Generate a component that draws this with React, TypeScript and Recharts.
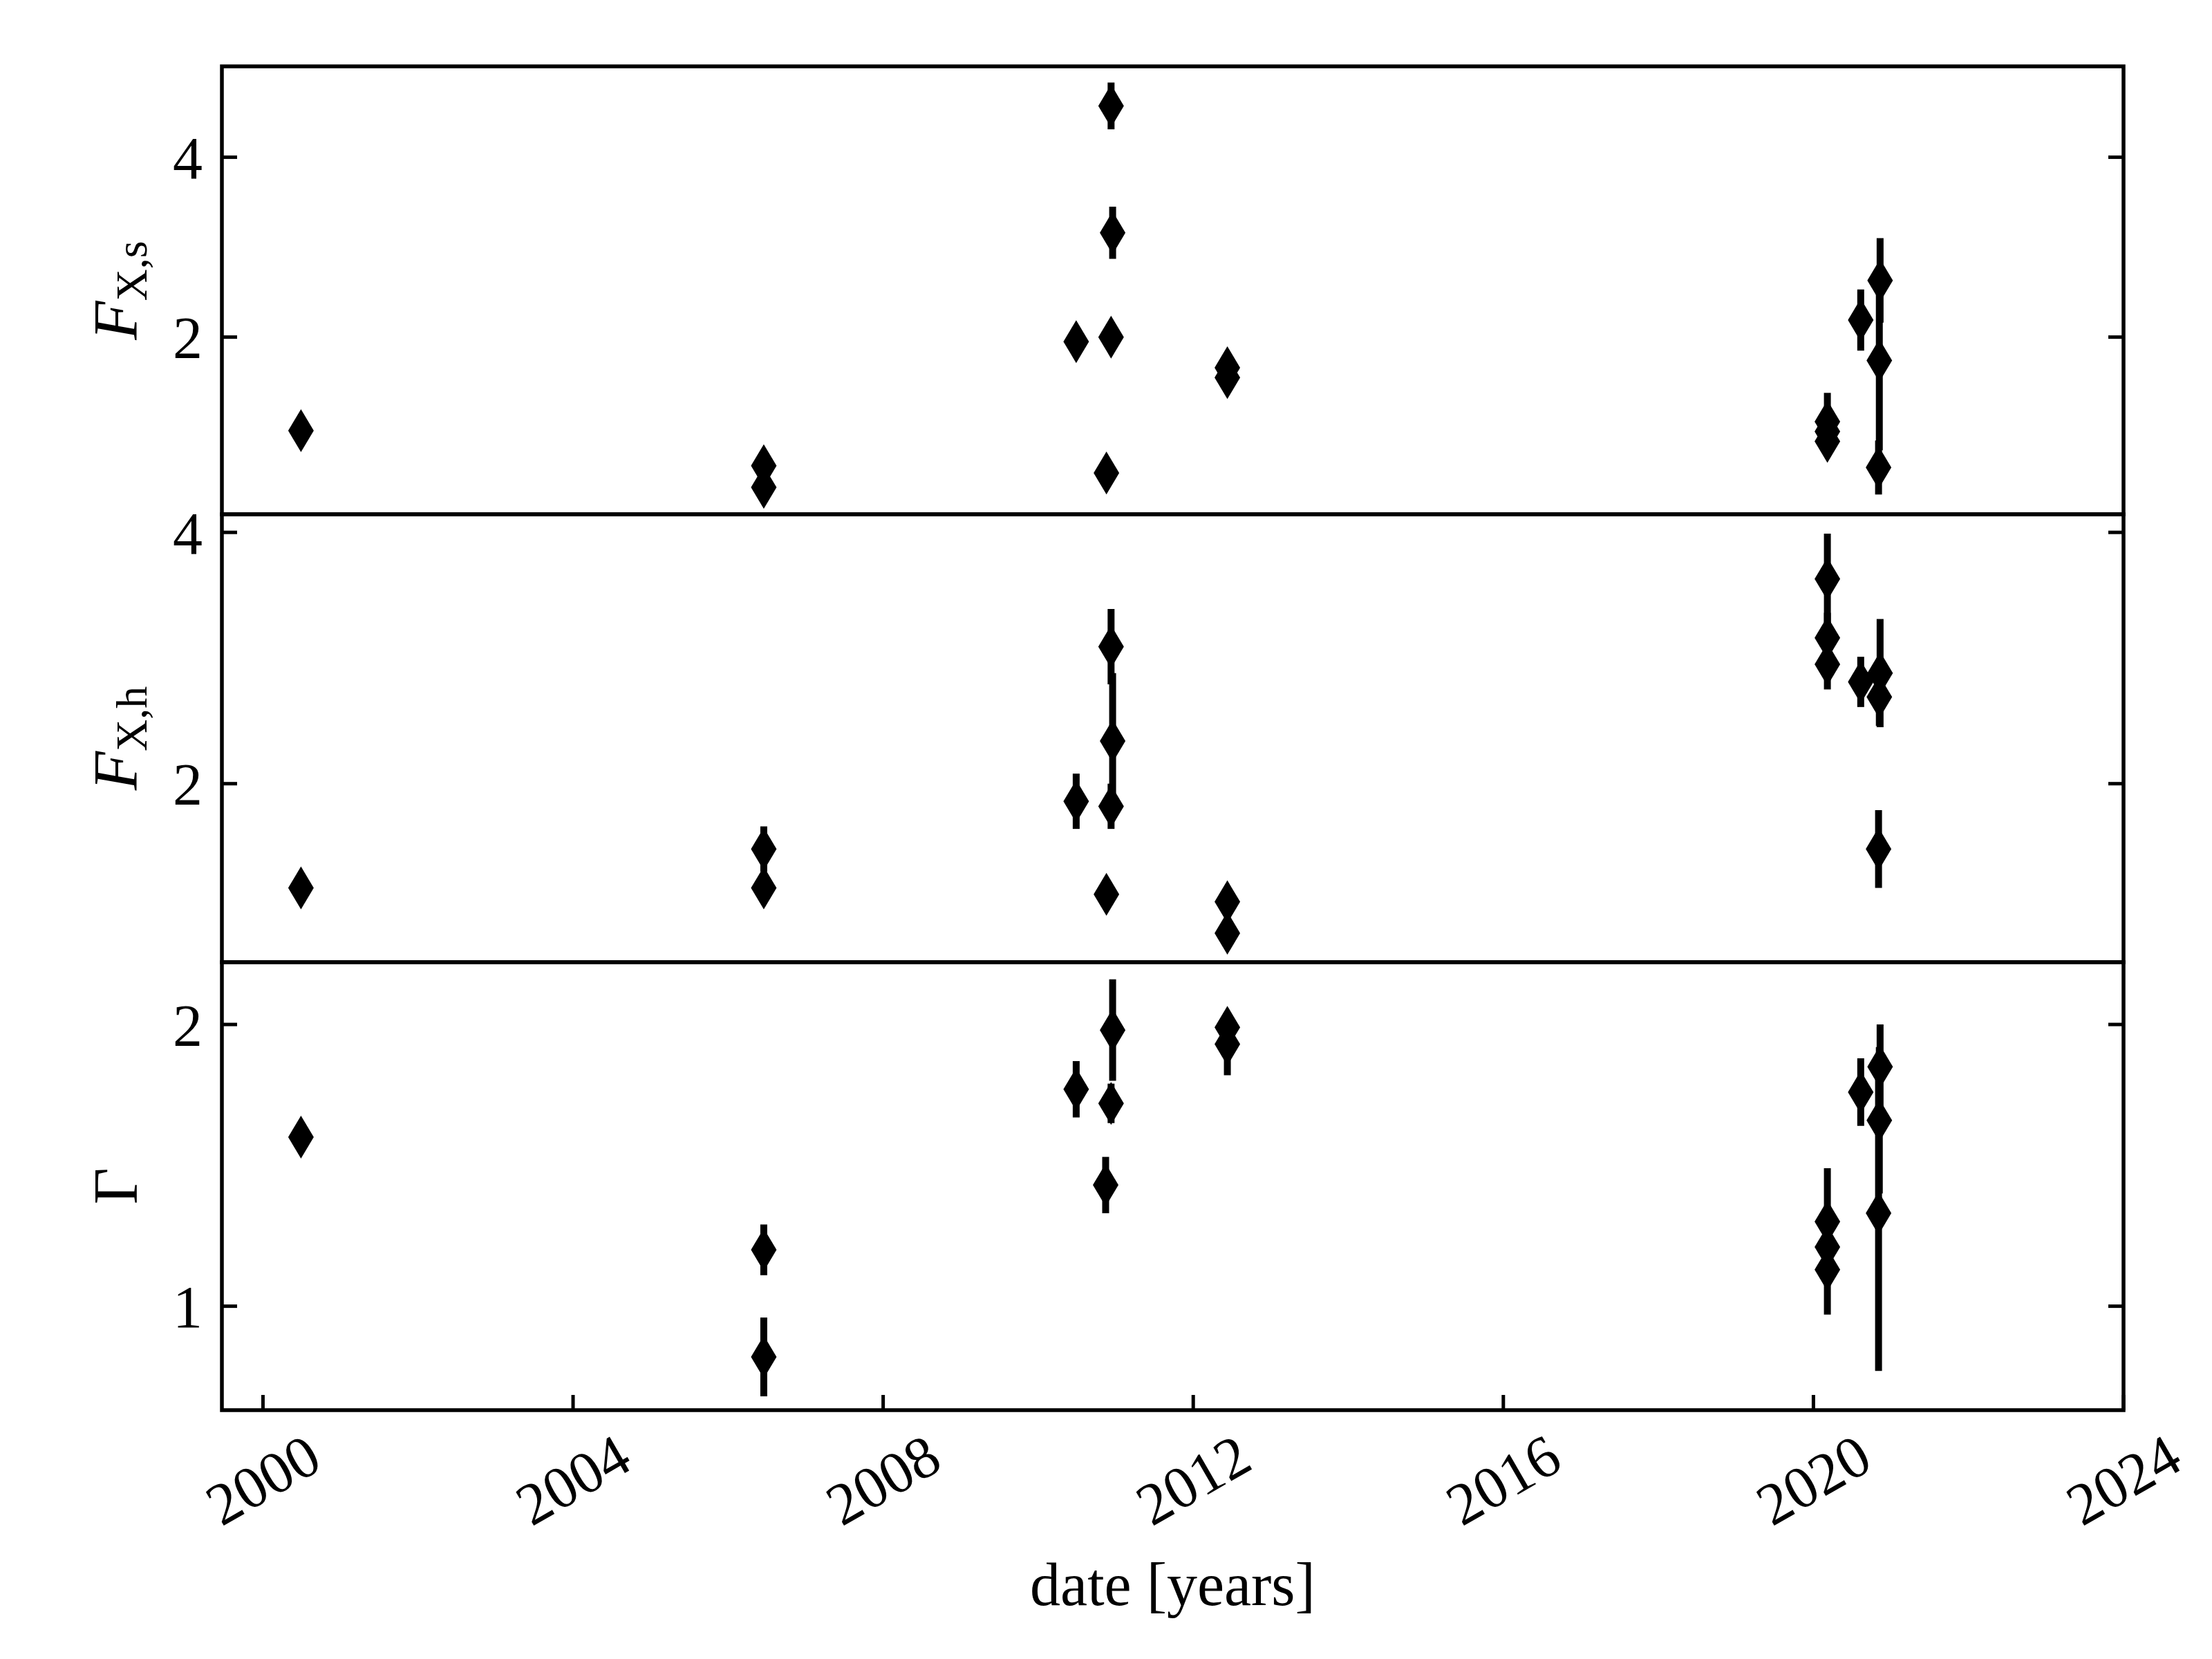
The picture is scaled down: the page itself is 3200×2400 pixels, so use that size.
import { ScatterChart, Scatter, XAxis, YAxis, ErrorBar, ReferenceArea } from 'recharts'

const SERIF = '"Liberation Serif", "DejaVu Serif", serif'

const xTicks = [2000, 2004, 2008, 2012, 2016, 2020, 2024]
const xDomain = [1999.47, 2024]

// soft band flux
const softDates = [2000.49, 2006.46, 2006.46, 2010.49, 2010.94, 2010.96, 2010.94, 2010.88, 2012.44, 2012.44, 2020.18, 2020.18, 2020.18, 2020.61, 2020.86, 2020.85, 2020.84]
const softFlux = [0.96, 0.57, 0.33, 1.95, 4.57, 3.16, 2.0, 0.49, 1.66, 1.55, 1.06, 0.95, 0.84, 2.19, 2.63, 1.74, 0.55]
const softErr = [0.04, 0.05, 0.05, 0.08, 0.26, 0.29, 0.08, 0.06, 0.07, 0.07, 0.32, 0.1, 0.12, 0.34, 0.47, 1.0, 0.3]

// hard band flux
const hardDates = [2000.49, 2006.46, 2006.46, 2010.49, 2010.94, 2010.96, 2010.94, 2010.88, 2012.44, 2012.44, 2020.18, 2020.18, 2020.18, 2020.61, 2020.86, 2020.85, 2020.84]
const hardFlux = [1.17, 1.48, 1.17, 1.86, 3.09, 2.34, 1.82, 1.12, 1.06, 0.81, 3.63, 3.16, 2.95, 2.81, 2.88, 2.69, 1.48]
const hardErr = [0.05, 0.18, 0.08, 0.22, 0.3, 0.54, 0.18, 0.06, 0.08, 0.08, 0.36, 0.2, 0.2, 0.2, 0.43, 0.23, 0.31]

// photon index
const gammaDates = [2000.49, 2006.46, 2006.46, 2010.49, 2010.96, 2010.94, 2010.87, 2012.44, 2012.44, 2020.18, 2020.18, 2020.18, 2020.61, 2020.86, 2020.85, 2020.84]
const gammaIdx = [1.6, 1.2, 0.82, 1.77, 1.98, 1.72, 1.43, 1.99, 1.93, 1.3, 1.21, 1.13, 1.76, 1.85, 1.66, 1.33]
const gammaErr = [0.03, 0.09, 0.14, 0.1, 0.18, 0.07, 0.1, 0.05, 0.11, 0.19, 0.1, 0.16, 0.12, 0.15, 0.26, 0.56]

const softDomain = [0.03, 5.01]
const hardDomain = [0.579, 4.144]
const gammaDomain = [0.631, 2.221]

const toRows = (d: number[], v: number[], e: number[]) =>
  d.map((x, i) => ({ x, y: v[i], err: e[i] }))

const Diamond = (props: any) => {
  const { cx, cy } = props
  if (cx == null || cy == null) return null
  return (
    <path
      d={`M${cx},${cy - 31} L${cx + 18.5},${cy} L${cx},${cy + 31} L${cx - 18.5},${cy} Z`}
      fill="#000"
    />
  )
}

const DateTick = (props: any) => {
  const { x, y, payload } = props
  return (
    <g transform={`translate(${x},${y}) rotate(-30)`}>
      <text textAnchor="middle" dominantBaseline="central" fontSize={86} fontFamily={SERIF} fill="#000">
        {payload.value}
      </text>
    </g>
  )
}

// mirrored axes keep their tick marks but show no numbers
const NoLabel = () => <g />

const yTitle = (main: string, sub: string | null, italic: boolean) => (props: any) => {
  const vb = props.viewBox
  const cx = vb.x + vb.width - 123
  const cy = vb.y + vb.height / 2
  return (
    <text
      x={cx}
      y={cy}
      transform={`rotate(-90, ${cx}, ${cy})`}
      textAnchor="middle"
      fontFamily={SERIF}
      fontSize={92}
      fill="#000"
    >
      <tspan fontStyle={italic ? 'italic' : 'normal'}>{main}</tspan>
      {sub && (
        <tspan fontSize={64} dy={14}>
          {sub}
        </tspan>
      )}
    </text>
  )
}

const xTitle = (props: any) => {
  const vb = props.viewBox
  return (
    <text x={vb.x + vb.width / 2} y={vb.y + 282} textAnchor="middle" fontFamily={SERIF} fontSize={88} fill="#000">
      date [years]
    </text>
  )
}

const tickFont = { fontSize: 86, fill: '#000', fontFamily: SERIF }
const tickStroke = { stroke: '#000', strokeWidth: 5 }

type PanelProps = {
  top: number
  height: number
  margin: { top: number; right: number; bottom: number; left: number }
  data: { x: number; y: number; err: number }[]
  domain: number[]
  ticks: number[]
  title: (props: any) => any
  showDates?: boolean
}

const Panel = ({ top, height, margin, data, domain, ticks, title, showDates }: PanelProps) => (
  <div style={{ position: 'absolute', left: 0, top, width: 3200, height }}>
    <ScatterChart width={3200} height={height} margin={margin}>
      {showDates ? (
        <XAxis
          dataKey="x"
          type="number"
          domain={xDomain}
          ticks={xTicks}
          interval={0}
          allowDataOverflow
          height={1}
          axisLine={false}
          tickSize={-22}
          tickMargin={123}
          tickLine={tickStroke}
          tick={<DateTick />}
          label={xTitle}
        />
      ) : (
        <XAxis dataKey="x" type="number" domain={xDomain} allowDataOverflow hide />
      )}
      {showDates && (
        <XAxis
          xAxisId="top"
          orientation="top"
          type="number"
          domain={xDomain}
          ticks={xTicks}
          interval={0}
          allowDataOverflow
          height={1}
          axisLine={false}
          tickSize={-22}
          tickLine={tickStroke}
          tick={<NoLabel />}
        />
      )}
      <YAxis
        dataKey="y"
        type="number"
        domain={domain}
        ticks={ticks}
        interval={0}
        allowDataOverflow
        width={1}
        axisLine={false}
        tickSize={-22}
        tickMargin={50}
        tickLine={tickStroke}
        tick={tickFont}
        label={title}
      />
      <YAxis
        yAxisId="right"
        orientation="right"
        type="number"
        domain={domain}
        ticks={ticks}
        interval={0}
        allowDataOverflow
        width={1}
        axisLine={false}
        tickSize={-22}
        tickLine={tickStroke}
        tick={<NoLabel />}
      />
      <ReferenceArea
        x1={xDomain[0]}
        x2={xDomain[1]}
        y1={domain[0]}
        y2={domain[1]}
        fill="none"
        stroke="#000"
        strokeWidth={5.5}
        ifOverflow="visible"
      />
      <Scatter data={data} shape={<Diamond />} isAnimationActive={false}>
        <ErrorBar dataKey="err" direction="y" width={0} stroke="#000" strokeWidth={10} isAnimationActive={false} />
      </Scatter>
    </ScatterChart>
  </div>
)

export default function App() {
  return (
    <div style={{ position: 'absolute', left: 0, top: 0, width: 3200, height: 2400, background: '#fff' }}>
      <Panel
        top={0}
        height={764}
        margin={{ top: 96, right: 127, bottom: 20, left: 320 }}
        data={toRows(softDates, softFlux, softErr)}
        domain={softDomain}
        ticks={[2, 4]}
        title={yTitle('F', 'X,s', true)}
      />
      <Panel
        top={724}
        height={688}
        margin={{ top: 20, right: 127, bottom: 20, left: 320 }}
        data={toRows(hardDates, hardFlux, hardErr)}
        domain={hardDomain}
        ticks={[2, 4]}
        title={yTitle('F', 'X,h', true)}
      />
      <Panel
        top={1372}
        height={1028}
        margin={{ top: 19, right: 127, bottom: 359, left: 320 }}
        data={toRows(gammaDates, gammaIdx, gammaErr)}
        domain={gammaDomain}
        ticks={[1, 2]}
        title={yTitle('Γ', null, false)}
        showDates
      />
    </div>
  )
}
